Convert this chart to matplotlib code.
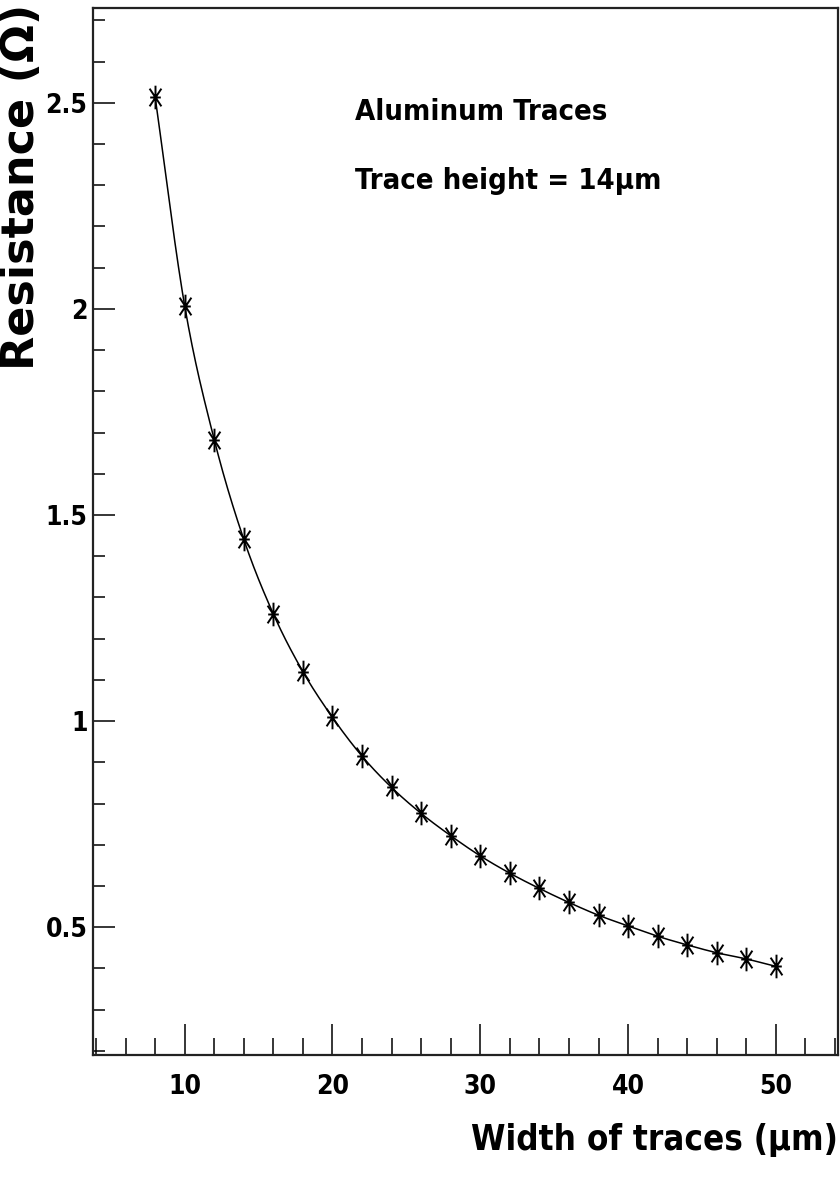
import numpy as np
import matplotlib
matplotlib.use("Agg")
import matplotlib.pyplot as plt
from matplotlib.path import Path
from matplotlib.ticker import MultipleLocator, FixedLocator, FixedFormatter

# Trace width (um) and measured resistance (Ohm)
widths = [8, 10, 12, 14, 16, 18, 20, 22, 24, 26, 28, 30,
          32, 34, 36, 38, 40, 42, 44, 46, 48, 50]
resistance = [2.515, 2.008, 1.683, 1.441, 1.260, 1.120, 1.009, 0.915,
              0.839, 0.776, 0.722, 0.673, 0.631, 0.594, 0.560, 0.529,
              0.503, 0.478, 0.457, 0.438, 0.423, 0.405]

x_major = [10, 20, 30, 40, 50]
x_labels = ["10", "20", "30", "40", "50"]
y_major = [0.5, 1.0, 1.5, 2.0, 2.5]
y_labels = ["0.5", "1", "1.5", "2", "2.5"]

cond = dict(family=["DejaVu Sans"], fontstretch="condensed", fontweight="bold")

fig = plt.figure(figsize=(8.4, 11.81), dpi=100)
ax = fig.add_axes([93 / 840, 1 - 1055 / 1181, (838 - 93) / 840, (1055 - 8) / 1181])

# smooth curve through the points (Catmull-Rom)
xs = np.asarray(widths, float)
ys = np.asarray(resistance, float)
px = np.concatenate([[2 * xs[0] - xs[1]], xs, [2 * xs[-1] - xs[-2]]])
py = np.concatenate([[2 * ys[0] - ys[1]], ys, [2 * ys[-1] - ys[-2]]])
t = np.linspace(0, 1, 25)[:, None]
cx, cy = [], []
for i in range(1, len(px) - 2):
    for p, out in ((px, cx), (py, cy)):
        p0, p1, p2, p3 = p[i - 1], p[i], p[i + 1], p[i + 2]
        seg = 0.5 * (2 * p1 + (-p0 + p2) * t + (2 * p0 - 5 * p1 + 4 * p2 - p3) * t ** 2
                     + (-p0 + 3 * p1 - 3 * p2 + p3) * t ** 3)
        out.append(seg.ravel())
ax.plot(np.concatenate(cx), np.concatenate(cy), color="black", lw=1.1, zorder=2)

# asterisk marker
star = Path([(0, -1), (0, 1), (-0.5, -0.75), (0.5, 0.75), (-0.5, 0.75), (0.5, -0.75),
             (-0.45, 0), (0.45, 0)],
            [Path.MOVETO, Path.LINETO] * 4)
ax.plot(widths, resistance, linestyle="none", marker=star, markersize=17,
        markeredgecolor="black", markerfacecolor="none", markeredgewidth=1.4, zorder=3)

ax.set_xlim(3.8, 54.2)
ax.set_ylim(0.19, 2.73)

ax.xaxis.set_major_locator(FixedLocator(x_major))
ax.xaxis.set_major_formatter(FixedFormatter(x_labels))
ax.xaxis.set_minor_locator(MultipleLocator(2))
ax.yaxis.set_major_locator(FixedLocator(y_major))
ax.yaxis.set_major_formatter(FixedFormatter(y_labels))
ax.yaxis.set_minor_locator(MultipleLocator(0.1))

ax.tick_params(axis="x", which="major", direction="in", length=22, width=1.1, pad=14,
               top=False)
ax.tick_params(axis="x", which="minor", direction="in", length=12, width=1.1, top=False)
ax.tick_params(axis="y", which="major", direction="in", length=16, width=1.1, pad=4,
               right=False)
ax.tick_params(axis="y", which="minor", direction="in", length=8.5, width=1.1, right=False)

for lab in ax.get_xticklabels() + ax.get_yticklabels():
    lab.set_family(cond["family"])
    lab.set_fontstretch("condensed")
    lab.set_fontweight("bold")
    lab.set_fontsize(19)

for side in ("left", "bottom", "top", "right"):
    ax.spines[side].set_linewidth(1.6)
    ax.spines[side].set_color("#222222")

fig.text(838 / 840, 1 - 1150 / 1181, "Width of traces (μm)", ha="right", va="baseline",
         fontsize=25, **cond)
fig.text(22 / 840, 1 - 4 / 1181, "Resistance (Ω)", rotation=90, ha="center", va="top",
         family=["DejaVu Sans"], fontweight="bold", fontsize=32)

ax.text(355 / 840, 1 - 120 / 1181, "Aluminum Traces", transform=fig.transFigure,
        ha="left", va="baseline", fontsize=21, **cond)
ax.text(355 / 840, 1 - 189 / 1181, "Trace height = 14μm", transform=fig.transFigure,
        ha="left", va="baseline", fontsize=21, **cond)

fig.savefig("out.png", dpi=100)
